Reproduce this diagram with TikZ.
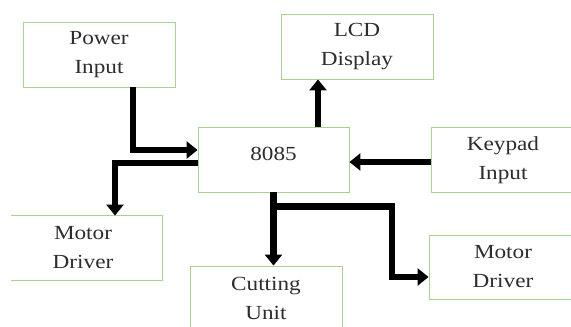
\documentclass[tikz,border=0pt]{standalone}
\usepackage{fontspec}
\setmainfont{Liberation Serif}[FakeStretch=1.16]
\usetikzlibrary{arrows.meta,calc}
\definecolor{boxgreen}{RGB}{170,210,142}
\definecolor{txt}{RGB}{45,45,45}
\begin{document}
\begin{tikzpicture}[x=1pt,y=-1pt,
  blk/.style={draw=boxgreen,line width=0.9pt,minimum width=152pt,minimum height=65pt,
    inner sep=0pt,align=center,text=txt,font=\fontsize{20}{29}\selectfont},
  openblk/.style={blk,draw=none},
  arr/.style={line width=6.5pt,line join=miter,-{Triangle[width=17pt,length=11pt]}}]
\useasboundingbox (0,0) rectangle (571,327);
\clip (0,0) rectangle (571,327);
% blocks
\node[blk] (pw) at (99,54.5) {Power\\Input};
\node[blk] (lcd) at (357,46.5) {LCD\\Display};
\node[blk,minimum width=151pt,text depth=12pt] (cpu) at (273.5,159.5) {8085};
\node[blk,minimum width=144pt] (kp) at (503,160) {Keypad\\Input};
\node[openblk,minimum width=158pt,minimum height=64pt] (ml) at (83,248) {Motor\\Driver};
\draw[draw=boxgreen,line width=0.9pt] ([xshift=7pt]ml.north west) -- (ml.north east) -- (ml.south east) -- ([xshift=7pt]ml.south west);
\node[blk,minimum width=148pt,minimum height=64pt] (mr) at (503,267) {Motor\\Driver};
\node[blk,minimum width=152pt,minimum height=64pt] (cu) at (266,298) {Cutting\\Unit};
% connectors
\path ([xshift=34pt]pw.south) coordinate (a1);
\draw[arr] (a1) |- ([yshift=9.5pt]cpu.west);
\path ([yshift=-3.5pt]cpu.west) coordinate (a2);
\draw[arr] (a2) -| ([xshift=32pt]ml.north);
\path ([xshift=44.5pt]cpu.north) coordinate (a3);
\draw[arr] (a3) -- (a3 |- lcd.south);
\path ([yshift=-2pt]kp.west) coordinate (a4);
\draw[arr] (a4) -- (a4 -| cpu.east);
\draw[arr] (cpu.south) -- (cpu.south |- cu.north);
\path ([yshift=-14pt]cpu.south) coordinate (a5);
\path (a5) ++(118.5,0) coordinate (a6);
\draw[arr] ([xshift=-3pt]a5) -- (a6) |- ([yshift=-10pt]mr.west);
\end{tikzpicture}
\end{document}
